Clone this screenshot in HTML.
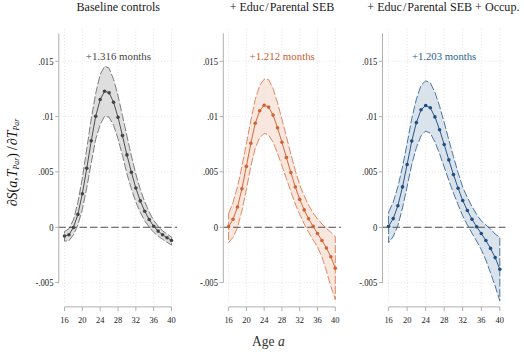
<!DOCTYPE html><html><head><meta charset="utf-8"><style>html,body{margin:0;padding:0;background:#fff;width:524px;height:352px;overflow:hidden}
svg{display:block}
text{font-family:"Liberation Serif",serif}
.grid{stroke:#d4d4d4;stroke-width:0.8;stroke-dasharray:0.8 2.3}
.ax{stroke:#b0b0b0;stroke-width:1}
.tick{font-size:9.2px;fill:#222}
.ytk{font-size:9.6px}
.title{font-size:12px;fill:#1a1a1a}
.note{font-size:10.5px}
.xt{font-size:14.5px;fill:#333}
.yt{font-size:14px;fill:#111}
</style></head><body><svg width="524" height="352" viewBox="0 0 524 352">
<rect width="524" height="352" fill="#fff"/>
<line x1="64.5" y1="28.7" x2="64.5" y2="303.8" class="grid"/>
<line x1="82.33" y1="28.7" x2="82.33" y2="303.8" class="grid"/>
<line x1="100.17" y1="28.7" x2="100.17" y2="303.8" class="grid"/>
<line x1="118" y1="28.7" x2="118" y2="303.8" class="grid"/>
<line x1="135.83" y1="28.7" x2="135.83" y2="303.8" class="grid"/>
<line x1="153.67" y1="28.7" x2="153.67" y2="303.8" class="grid"/>
<line x1="171.5" y1="28.7" x2="171.5" y2="303.8" class="grid"/>
<line x1="58.8" y1="61.3" x2="177" y2="61.3" class="grid"/>
<line x1="58.8" y1="116.6" x2="177" y2="116.6" class="grid"/>
<line x1="58.8" y1="171.9" x2="177" y2="171.9" class="grid"/>
<line x1="58.8" y1="227.3" x2="177" y2="227.3" class="grid"/>
<line x1="58.8" y1="282.6" x2="177" y2="282.6" class="grid"/>
<polygon points="64.5,231.5 68.96,228.7 73.42,220 77.88,202.4 82.33,178.2 86.79,148.7 91.25,118.8 95.71,93.3 100.17,74.5 104.62,66.2 109.08,68.2 113.54,79.3 118,95.7 122.46,115.6 126.92,135.9 131.38,155.8 135.83,174 140.29,189.4 144.75,201.8 149.21,212 153.67,220.3 158.12,226.1 162.58,230.8 167.04,234 171.5,237.1 171.5,245 167.04,242.3 162.58,239.3 158.12,236.1 153.67,232.3 149.21,227 144.75,220.8 140.29,212.4 135.83,202 131.38,188.8 126.92,173.9 122.46,155.6 118,138.7 113.54,125.3 109.08,117.2 104.62,116.2 100.17,124.5 95.71,139.3 91.25,162.8 86.79,187.7 82.33,209.4 77.88,224.9 73.42,234.8 68.96,240.7 64.5,241.2" fill="#d8d8d8" fill-opacity="0.85" stroke="#6e6e6e" stroke-width="0.9" stroke-dasharray="8 2.2"/>
<line x1="58.8" y1="227.3" x2="177" y2="227.3" stroke="#505050" stroke-width="1.05" stroke-dasharray="7.5 3.1" stroke-dashoffset="0.6"/>
<polyline points="64.5,236 68.96,234.7 73.42,227.5 77.88,214.4 82.33,193.8 86.79,168.2 91.25,140.8 95.71,116.3 100.17,99.5 104.62,91.2 109.08,92.7 113.54,102.3 118,117.2 122.46,135.6 126.92,154.9 131.38,172.3 135.83,188 140.29,200.9 144.75,211.3 149.21,219.5 153.67,226.3 158.12,231.1 162.58,234.8 167.04,237.7 171.5,240.5" fill="none" stroke="#474747" stroke-width="0.95"/>
<circle cx="64.5" cy="236" r="1.8" fill="#444444"/>
<circle cx="68.96" cy="234.7" r="1.8" fill="#444444"/>
<circle cx="73.42" cy="227.5" r="1.8" fill="#444444"/>
<circle cx="77.88" cy="214.4" r="1.8" fill="#444444"/>
<circle cx="82.33" cy="193.8" r="1.8" fill="#444444"/>
<circle cx="86.79" cy="168.2" r="1.8" fill="#444444"/>
<circle cx="91.25" cy="140.8" r="1.8" fill="#444444"/>
<circle cx="95.71" cy="116.3" r="1.8" fill="#444444"/>
<circle cx="100.17" cy="99.5" r="1.8" fill="#444444"/>
<circle cx="104.62" cy="91.2" r="1.8" fill="#444444"/>
<circle cx="109.08" cy="92.7" r="1.8" fill="#444444"/>
<circle cx="113.54" cy="102.3" r="1.8" fill="#444444"/>
<circle cx="118" cy="117.2" r="1.8" fill="#444444"/>
<circle cx="122.46" cy="135.6" r="1.8" fill="#444444"/>
<circle cx="126.92" cy="154.9" r="1.8" fill="#444444"/>
<circle cx="131.38" cy="172.3" r="1.8" fill="#444444"/>
<circle cx="135.83" cy="188" r="1.8" fill="#444444"/>
<circle cx="140.29" cy="200.9" r="1.8" fill="#444444"/>
<circle cx="144.75" cy="211.3" r="1.8" fill="#444444"/>
<circle cx="149.21" cy="219.5" r="1.8" fill="#444444"/>
<circle cx="153.67" cy="226.3" r="1.8" fill="#444444"/>
<circle cx="158.12" cy="231.1" r="1.8" fill="#444444"/>
<circle cx="162.58" cy="234.8" r="1.8" fill="#444444"/>
<circle cx="167.04" cy="237.7" r="1.8" fill="#444444"/>
<circle cx="171.5" cy="240.5" r="1.8" fill="#444444"/>
<line x1="58.8" y1="33.3" x2="58.8" y2="282.6" class="ax"/>
<line x1="55.2" y1="61.3" x2="58.8" y2="61.3" class="ax"/>
<text transform="translate(53.5,64.8) scale(0.9,1)" text-anchor="end" class="tick ytk">.015</text>
<line x1="55.2" y1="116.6" x2="58.8" y2="116.6" class="ax"/>
<text transform="translate(53.5,120.1) scale(0.9,1)" text-anchor="end" class="tick ytk">.01</text>
<line x1="55.2" y1="171.9" x2="58.8" y2="171.9" class="ax"/>
<text transform="translate(53.5,175.4) scale(0.9,1)" text-anchor="end" class="tick ytk">.005</text>
<line x1="55.2" y1="227.3" x2="58.8" y2="227.3" class="ax"/>
<text transform="translate(53.5,230.8) scale(0.9,1)" text-anchor="end" class="tick ytk">0</text>
<line x1="55.2" y1="282.6" x2="58.8" y2="282.6" class="ax"/>
<text transform="translate(53.5,286.1) scale(0.9,1)" text-anchor="end" class="tick ytk">-.005</text>
<line x1="64.5" y1="306.9" x2="171.5" y2="306.9" class="ax"/>
<line x1="64.5" y1="306.9" x2="64.5" y2="311.1" class="ax"/>
<text transform="translate(64.5,322.8) scale(0.92,1)" text-anchor="middle" class="tick">16</text>
<line x1="82.33" y1="306.9" x2="82.33" y2="311.1" class="ax"/>
<text transform="translate(82.33,322.8) scale(0.92,1)" text-anchor="middle" class="tick">20</text>
<line x1="100.17" y1="306.9" x2="100.17" y2="311.1" class="ax"/>
<text transform="translate(100.17,322.8) scale(0.92,1)" text-anchor="middle" class="tick">24</text>
<line x1="118" y1="306.9" x2="118" y2="311.1" class="ax"/>
<text transform="translate(118,322.8) scale(0.92,1)" text-anchor="middle" class="tick">28</text>
<line x1="135.83" y1="306.9" x2="135.83" y2="311.1" class="ax"/>
<text transform="translate(135.83,322.8) scale(0.92,1)" text-anchor="middle" class="tick">32</text>
<line x1="153.67" y1="306.9" x2="153.67" y2="311.1" class="ax"/>
<text transform="translate(153.67,322.8) scale(0.92,1)" text-anchor="middle" class="tick">36</text>
<line x1="171.5" y1="306.9" x2="171.5" y2="311.1" class="ax"/>
<text transform="translate(171.5,322.8) scale(0.92,1)" text-anchor="middle" class="tick">40</text>
<text x="118.25" y="10.6" text-anchor="middle" class="title" textLength="83.5" lengthAdjust="spacingAndGlyphs">Baseline controls</text>
<text x="118.4" y="60.1" text-anchor="middle" class="note" fill="#444444" textLength="65.2" lengthAdjust="spacingAndGlyphs">+1.316 months</text>
<line x1="228.6" y1="28.7" x2="228.6" y2="303.8" class="grid"/>
<line x1="246.38" y1="28.7" x2="246.38" y2="303.8" class="grid"/>
<line x1="264.17" y1="28.7" x2="264.17" y2="303.8" class="grid"/>
<line x1="281.95" y1="28.7" x2="281.95" y2="303.8" class="grid"/>
<line x1="299.73" y1="28.7" x2="299.73" y2="303.8" class="grid"/>
<line x1="317.52" y1="28.7" x2="317.52" y2="303.8" class="grid"/>
<line x1="335.3" y1="28.7" x2="335.3" y2="303.8" class="grid"/>
<line x1="223.3" y1="61.3" x2="341" y2="61.3" class="grid"/>
<line x1="223.3" y1="116.6" x2="341" y2="116.6" class="grid"/>
<line x1="223.3" y1="171.9" x2="341" y2="171.9" class="grid"/>
<line x1="223.3" y1="227.3" x2="341" y2="227.3" class="grid"/>
<line x1="223.3" y1="282.6" x2="341" y2="282.6" class="grid"/>
<polygon points="228.6,213.6 233.05,202.3 237.49,187 241.94,166.3 246.38,143.9 250.83,120.3 255.28,99.3 259.72,85.2 264.17,79.2 268.61,79.6 273.06,88.6 277.5,102.7 281.95,119.3 286.4,136.6 290.84,154 295.29,170.5 299.73,184.9 304.18,195.9 308.62,205.3 313.07,212.9 317.52,219 321.96,224 326.41,228.5 330.85,232.3 335.3,236.7 335.3,299.7 330.85,286.3 326.41,271 321.96,257 317.52,247 313.07,239.9 308.62,232.3 304.18,223.9 299.73,214.4 295.29,204 290.84,191.5 286.4,178.6 281.95,165.8 277.5,153.2 273.06,142.1 268.61,135.1 264.17,133.2 259.72,137.7 255.28,148.3 250.83,166.3 246.38,189.4 241.94,210.8 237.49,227.5 233.05,237.3 228.6,242.6" fill="#f5dcd0" fill-opacity="0.68" stroke="#dd7c50" stroke-width="0.9" stroke-dasharray="8 2.2"/>
<line x1="223.3" y1="227.3" x2="341" y2="227.3" stroke="#505050" stroke-width="1.05" stroke-dasharray="7.5 3.1" stroke-dashoffset="0.8"/>
<polyline points="228.6,226.6 233.05,219.3 237.49,207 241.94,188.8 246.38,166.4 250.83,143.3 255.28,123.3 259.72,110.7 264.17,105.2 268.61,107.1 273.06,115.1 277.5,127.7 281.95,142.3 286.4,157.6 290.84,172.5 295.29,187 299.73,199.4 304.18,209.9 308.62,218.8 313.07,226.4 317.52,233.5 321.96,240.5 326.41,248 330.85,256.8 335.3,268.2" fill="none" stroke="#d2622f" stroke-width="0.95"/>
<circle cx="228.6" cy="226.6" r="1.8" fill="#d2622f"/>
<circle cx="233.05" cy="219.3" r="1.8" fill="#d2622f"/>
<circle cx="237.49" cy="207" r="1.8" fill="#d2622f"/>
<circle cx="241.94" cy="188.8" r="1.8" fill="#d2622f"/>
<circle cx="246.38" cy="166.4" r="1.8" fill="#d2622f"/>
<circle cx="250.83" cy="143.3" r="1.8" fill="#d2622f"/>
<circle cx="255.28" cy="123.3" r="1.8" fill="#d2622f"/>
<circle cx="259.72" cy="110.7" r="1.8" fill="#d2622f"/>
<circle cx="264.17" cy="105.2" r="1.8" fill="#d2622f"/>
<circle cx="268.61" cy="107.1" r="1.8" fill="#d2622f"/>
<circle cx="273.06" cy="115.1" r="1.8" fill="#d2622f"/>
<circle cx="277.5" cy="127.7" r="1.8" fill="#d2622f"/>
<circle cx="281.95" cy="142.3" r="1.8" fill="#d2622f"/>
<circle cx="286.4" cy="157.6" r="1.8" fill="#d2622f"/>
<circle cx="290.84" cy="172.5" r="1.8" fill="#d2622f"/>
<circle cx="295.29" cy="187" r="1.8" fill="#d2622f"/>
<circle cx="299.73" cy="199.4" r="1.8" fill="#d2622f"/>
<circle cx="304.18" cy="209.9" r="1.8" fill="#d2622f"/>
<circle cx="308.62" cy="218.8" r="1.8" fill="#d2622f"/>
<circle cx="313.07" cy="226.4" r="1.8" fill="#d2622f"/>
<circle cx="317.52" cy="233.5" r="1.8" fill="#d2622f"/>
<circle cx="321.96" cy="240.5" r="1.8" fill="#d2622f"/>
<circle cx="326.41" cy="248" r="1.8" fill="#d2622f"/>
<circle cx="330.85" cy="256.8" r="1.8" fill="#d2622f"/>
<circle cx="335.3" cy="268.2" r="1.8" fill="#d2622f"/>
<line x1="223.3" y1="33.3" x2="223.3" y2="282.6" class="ax"/>
<line x1="219.7" y1="61.3" x2="223.3" y2="61.3" class="ax"/>
<text transform="translate(218,64.8) scale(0.9,1)" text-anchor="end" class="tick ytk">.015</text>
<line x1="219.7" y1="116.6" x2="223.3" y2="116.6" class="ax"/>
<text transform="translate(218,120.1) scale(0.9,1)" text-anchor="end" class="tick ytk">.01</text>
<line x1="219.7" y1="171.9" x2="223.3" y2="171.9" class="ax"/>
<text transform="translate(218,175.4) scale(0.9,1)" text-anchor="end" class="tick ytk">.005</text>
<line x1="219.7" y1="227.3" x2="223.3" y2="227.3" class="ax"/>
<text transform="translate(218,230.8) scale(0.9,1)" text-anchor="end" class="tick ytk">0</text>
<line x1="219.7" y1="282.6" x2="223.3" y2="282.6" class="ax"/>
<text transform="translate(218,286.1) scale(0.9,1)" text-anchor="end" class="tick ytk">-.005</text>
<line x1="228.6" y1="306.9" x2="335.3" y2="306.9" class="ax"/>
<line x1="228.6" y1="306.9" x2="228.6" y2="311.1" class="ax"/>
<text transform="translate(228.6,322.8) scale(0.92,1)" text-anchor="middle" class="tick">16</text>
<line x1="246.38" y1="306.9" x2="246.38" y2="311.1" class="ax"/>
<text transform="translate(246.38,322.8) scale(0.92,1)" text-anchor="middle" class="tick">20</text>
<line x1="264.17" y1="306.9" x2="264.17" y2="311.1" class="ax"/>
<text transform="translate(264.17,322.8) scale(0.92,1)" text-anchor="middle" class="tick">24</text>
<line x1="281.95" y1="306.9" x2="281.95" y2="311.1" class="ax"/>
<text transform="translate(281.95,322.8) scale(0.92,1)" text-anchor="middle" class="tick">28</text>
<line x1="299.73" y1="306.9" x2="299.73" y2="311.1" class="ax"/>
<text transform="translate(299.73,322.8) scale(0.92,1)" text-anchor="middle" class="tick">32</text>
<line x1="317.52" y1="306.9" x2="317.52" y2="311.1" class="ax"/>
<text transform="translate(317.52,322.8) scale(0.92,1)" text-anchor="middle" class="tick">36</text>
<line x1="335.3" y1="306.9" x2="335.3" y2="311.1" class="ax"/>
<text transform="translate(335.3,322.8) scale(0.92,1)" text-anchor="middle" class="tick">40</text>
<text x="282" y="10.6" text-anchor="middle" class="title" textLength="104.7" lengthAdjust="spacingAndGlyphs">+ Educ&#8202;/&#8202;Parental SEB</text>
<text x="282.2" y="60.1" text-anchor="middle" class="note" fill="#c9602f" textLength="65.3" lengthAdjust="spacingAndGlyphs">+1.212 months</text>
<line x1="388.6" y1="28.7" x2="388.6" y2="303.8" class="grid"/>
<line x1="407.13" y1="28.7" x2="407.13" y2="303.8" class="grid"/>
<line x1="425.67" y1="28.7" x2="425.67" y2="303.8" class="grid"/>
<line x1="444.2" y1="28.7" x2="444.2" y2="303.8" class="grid"/>
<line x1="462.73" y1="28.7" x2="462.73" y2="303.8" class="grid"/>
<line x1="481.27" y1="28.7" x2="481.27" y2="303.8" class="grid"/>
<line x1="499.8" y1="28.7" x2="499.8" y2="303.8" class="grid"/>
<line x1="382.5" y1="61.3" x2="505.5" y2="61.3" class="grid"/>
<line x1="382.5" y1="116.6" x2="505.5" y2="116.6" class="grid"/>
<line x1="382.5" y1="171.9" x2="505.5" y2="171.9" class="grid"/>
<line x1="382.5" y1="227.3" x2="505.5" y2="227.3" class="grid"/>
<line x1="382.5" y1="282.6" x2="505.5" y2="282.6" class="grid"/>
<polygon points="388.6,212.2 393.23,202.1 397.87,186.8 402.5,166.9 407.13,143.5 411.77,118.5 416.4,99.1 421.03,85.3 425.67,80.8 430.3,82.8 434.93,92.4 439.57,106.2 444.2,122.5 448.83,139.9 453.47,156.6 458.1,172.7 462.73,187.2 467.37,197.4 472,206.6 476.63,214.5 481.27,220.9 485.9,225 490.53,228.9 495.17,234.1 499.8,237.2 499.8,300.7 495.17,286.1 490.53,272.9 485.9,260 481.27,249.5 476.63,241.2 472,233.2 467.37,224.9 462.73,215.9 458.1,204.7 453.47,193.1 448.83,180.4 444.2,167 439.57,153.7 434.93,141.9 430.3,133.3 425.67,131 421.03,135.8 416.4,147.6 411.77,164.5 407.13,186.5 402.5,207.9 397.87,225.8 393.23,236.6 388.6,242.6" fill="#d3dee8" fill-opacity="0.85" stroke="#356696" stroke-width="0.9" stroke-dasharray="8 2.2"/>
<line x1="382.5" y1="227.3" x2="505.5" y2="227.3" stroke="#505050" stroke-width="1.05" stroke-dasharray="7.5 3.1" stroke-dashoffset="0.5"/>
<polyline points="388.6,226.2 393.23,218.6 397.87,205.8 402.5,186.9 407.13,164.5 411.77,141 416.4,122.6 421.03,109.8 425.67,105.5 430.3,107.8 434.93,116.9 439.57,129.7 444.2,144.5 448.83,159.9 453.47,174.6 458.1,188.2 462.73,200.5 467.37,210.5 472,219.2 476.63,226.7 481.27,233.5 485.9,240.5 490.53,248.4 495.17,257.6 499.8,269.2" fill="none" stroke="#1f4f82" stroke-width="0.95"/>
<circle cx="388.6" cy="226.2" r="1.8" fill="#1f4f82"/>
<circle cx="393.23" cy="218.6" r="1.8" fill="#1f4f82"/>
<circle cx="397.87" cy="205.8" r="1.8" fill="#1f4f82"/>
<circle cx="402.5" cy="186.9" r="1.8" fill="#1f4f82"/>
<circle cx="407.13" cy="164.5" r="1.8" fill="#1f4f82"/>
<circle cx="411.77" cy="141" r="1.8" fill="#1f4f82"/>
<circle cx="416.4" cy="122.6" r="1.8" fill="#1f4f82"/>
<circle cx="421.03" cy="109.8" r="1.8" fill="#1f4f82"/>
<circle cx="425.67" cy="105.5" r="1.8" fill="#1f4f82"/>
<circle cx="430.3" cy="107.8" r="1.8" fill="#1f4f82"/>
<circle cx="434.93" cy="116.9" r="1.8" fill="#1f4f82"/>
<circle cx="439.57" cy="129.7" r="1.8" fill="#1f4f82"/>
<circle cx="444.2" cy="144.5" r="1.8" fill="#1f4f82"/>
<circle cx="448.83" cy="159.9" r="1.8" fill="#1f4f82"/>
<circle cx="453.47" cy="174.6" r="1.8" fill="#1f4f82"/>
<circle cx="458.1" cy="188.2" r="1.8" fill="#1f4f82"/>
<circle cx="462.73" cy="200.5" r="1.8" fill="#1f4f82"/>
<circle cx="467.37" cy="210.5" r="1.8" fill="#1f4f82"/>
<circle cx="472" cy="219.2" r="1.8" fill="#1f4f82"/>
<circle cx="476.63" cy="226.7" r="1.8" fill="#1f4f82"/>
<circle cx="481.27" cy="233.5" r="1.8" fill="#1f4f82"/>
<circle cx="485.9" cy="240.5" r="1.8" fill="#1f4f82"/>
<circle cx="490.53" cy="248.4" r="1.8" fill="#1f4f82"/>
<circle cx="495.17" cy="257.6" r="1.8" fill="#1f4f82"/>
<circle cx="499.8" cy="269.2" r="1.8" fill="#1f4f82"/>
<line x1="382.5" y1="33.3" x2="382.5" y2="282.6" class="ax"/>
<line x1="378.9" y1="61.3" x2="382.5" y2="61.3" class="ax"/>
<text transform="translate(377.2,64.8) scale(0.9,1)" text-anchor="end" class="tick ytk">.015</text>
<line x1="378.9" y1="116.6" x2="382.5" y2="116.6" class="ax"/>
<text transform="translate(377.2,120.1) scale(0.9,1)" text-anchor="end" class="tick ytk">.01</text>
<line x1="378.9" y1="171.9" x2="382.5" y2="171.9" class="ax"/>
<text transform="translate(377.2,175.4) scale(0.9,1)" text-anchor="end" class="tick ytk">.005</text>
<line x1="378.9" y1="227.3" x2="382.5" y2="227.3" class="ax"/>
<text transform="translate(377.2,230.8) scale(0.9,1)" text-anchor="end" class="tick ytk">0</text>
<line x1="378.9" y1="282.6" x2="382.5" y2="282.6" class="ax"/>
<text transform="translate(377.2,286.1) scale(0.9,1)" text-anchor="end" class="tick ytk">-.005</text>
<line x1="388.6" y1="306.9" x2="499.8" y2="306.9" class="ax"/>
<line x1="388.6" y1="306.9" x2="388.6" y2="311.1" class="ax"/>
<text transform="translate(388.6,322.8) scale(0.92,1)" text-anchor="middle" class="tick">16</text>
<line x1="407.13" y1="306.9" x2="407.13" y2="311.1" class="ax"/>
<text transform="translate(407.13,322.8) scale(0.92,1)" text-anchor="middle" class="tick">20</text>
<line x1="425.67" y1="306.9" x2="425.67" y2="311.1" class="ax"/>
<text transform="translate(425.67,322.8) scale(0.92,1)" text-anchor="middle" class="tick">24</text>
<line x1="444.2" y1="306.9" x2="444.2" y2="311.1" class="ax"/>
<text transform="translate(444.2,322.8) scale(0.92,1)" text-anchor="middle" class="tick">28</text>
<line x1="462.73" y1="306.9" x2="462.73" y2="311.1" class="ax"/>
<text transform="translate(462.73,322.8) scale(0.92,1)" text-anchor="middle" class="tick">32</text>
<line x1="481.27" y1="306.9" x2="481.27" y2="311.1" class="ax"/>
<text transform="translate(481.27,322.8) scale(0.92,1)" text-anchor="middle" class="tick">36</text>
<line x1="499.8" y1="306.9" x2="499.8" y2="311.1" class="ax"/>
<text transform="translate(499.8,322.8) scale(0.92,1)" text-anchor="middle" class="tick">40</text>
<text x="443.4" y="10.6" text-anchor="middle" class="title" textLength="152.1" lengthAdjust="spacingAndGlyphs">+ Educ&#8202;/&#8202;Parental SEB + Occup.</text>
<text x="444.1" y="60.1" text-anchor="middle" class="note" fill="#2a5d91" textLength="64.4" lengthAdjust="spacingAndGlyphs">+1.203 months</text>
<text x="268.35" y="346" text-anchor="middle" class="xt" textLength="32.7" lengthAdjust="spacingAndGlyphs">Age <tspan font-style="italic">a</tspan></text>
<text transform="translate(17,206.3) rotate(-90)" text-anchor="start" class="yt">&#8706;<tspan font-style="italic">S</tspan>(<tspan font-style="italic">a</tspan>,<tspan font-style="italic">T</tspan><tspan font-size="7.8" font-style="italic" dy="1.8">Par</tspan><tspan dy="-1.8">)&#8201;/&#8202;&#8706;</tspan><tspan font-style="italic">T</tspan><tspan font-size="7.8" font-style="italic" dy="1.8">Par</tspan></text>
</svg></body></html>
